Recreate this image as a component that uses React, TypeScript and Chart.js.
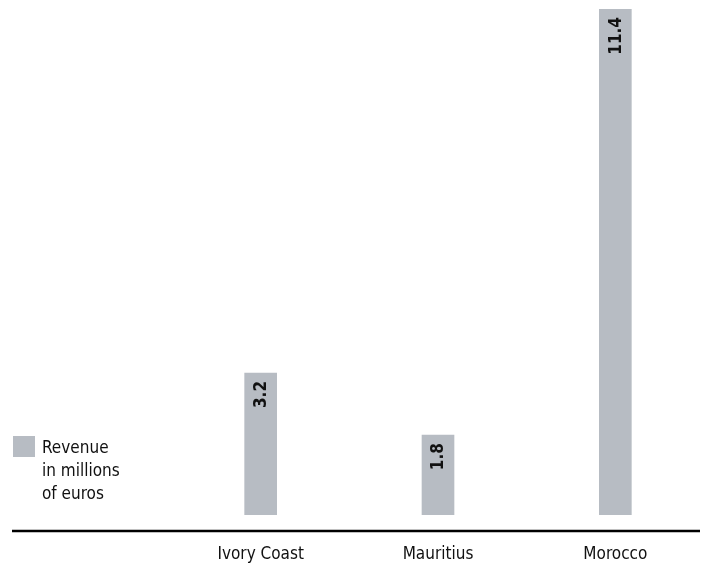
import React, { useEffect, useRef } from "react";
import { Chart, registerables } from "chart.js";

Chart.register(...registerables);

const categories = ["Ivory Coast", "Mauritius", "Morocco"];
const revenue = [3.2, 1.8, 11.4];
const valueLabels = ["3.2", "1.8", "11.4"];
const legendLines = ["Revenue", "in millions", "of euros"];

const BAR_COLOR = "#b7bcc3";
const FONT = "'DejaVu Sans Condensed', 'Liberation Sans Narrow', sans-serif";

const valueLabelPlugin = {
  id: "valueLabels",
  afterDatasetsDraw(chart: any) {
    const ctx = chart.ctx;
    const meta = chart.getDatasetMeta(0);
    ctx.save();
    ctx.fillStyle = "#111";
    ctx.font = `bold 17px ${FONT}`;
    ctx.textAlign = "right";
    ctx.textBaseline = "middle";
    meta.data.forEach((bar: any, i: number) => {
      ctx.save();
      ctx.translate(bar.x, bar.y + 8);
      ctx.rotate(-Math.PI / 2);
      ctx.fillText(valueLabels[i], 0, 1);
      ctx.restore();
    });
    ctx.restore();
  },
};

const baselinePlugin = {
  id: "baseline",
  afterDraw(chart: any) {
    const ctx = chart.ctx;
    const y = chart.chartArea.bottom + 16;
    ctx.save();
    ctx.strokeStyle = "#000";
    ctx.lineWidth = 2.5;
    ctx.beginPath();
    ctx.moveTo(12, y);
    ctx.lineTo(700, y);
    ctx.stroke();
    ctx.restore();
  },
};

export default function App() {
  const canvasRef = useRef<HTMLCanvasElement | null>(null);

  useEffect(() => {
    document.body.style.margin = "0";
    if (!canvasRef.current) return;
    const chart = new Chart(canvasRef.current, {
      type: "bar",
      data: {
        labels: categories,
        datasets: [
          {
            label: "Revenue in millions of euros",
            data: revenue,
            backgroundColor: BAR_COLOR,
            borderWidth: 0,
            barThickness: 32,
          },
        ],
      },
      options: {
        animation: false,
        responsive: false,
        layout: { padding: { top: 9, left: 172, right: 0, bottom: 0 } },
        plugins: {
          legend: { display: false },
          tooltip: { enabled: false },
        },
        scales: {
          y: { display: false, min: 0, max: 11.4 },
          x: {
            grid: { display: false, drawTicks: false },
            border: { display: false },
            afterFit: (scale: any) => {
              scale.height = 51;
            },
            ticks: {
              padding: 29,
              color: "#111",
              maxRotation: 0,
              font: { family: FONT, size: 17, lineHeight: 1.2 },
            },
          },
        },
      },
      plugins: [valueLabelPlugin, baselinePlugin],
    });
    return () => chart.destroy();
  }, []);

  return (
    <div style={{ position: "fixed", left: 0, top: 0, width: 704, height: 566, background: "#fff" }}>
      <canvas ref={canvasRef} width={704} height={566} style={{ width: 704, height: 566, display: "block" }} />
      <div style={{ position: "absolute", left: 13, top: 436, display: "flex", alignItems: "flex-start" }}>
        <div style={{ width: 22, height: 21, background: BAR_COLOR }} />
        <div
          style={{
            marginLeft: 7,
            fontFamily: FONT,
            fontSize: 17,
            lineHeight: "23px",
            color: "#111",
          }}
        >
          {legendLines.map((l, i) => (
            <div key={i}>{l}</div>
          ))}
        </div>
      </div>
    </div>
  );
}
